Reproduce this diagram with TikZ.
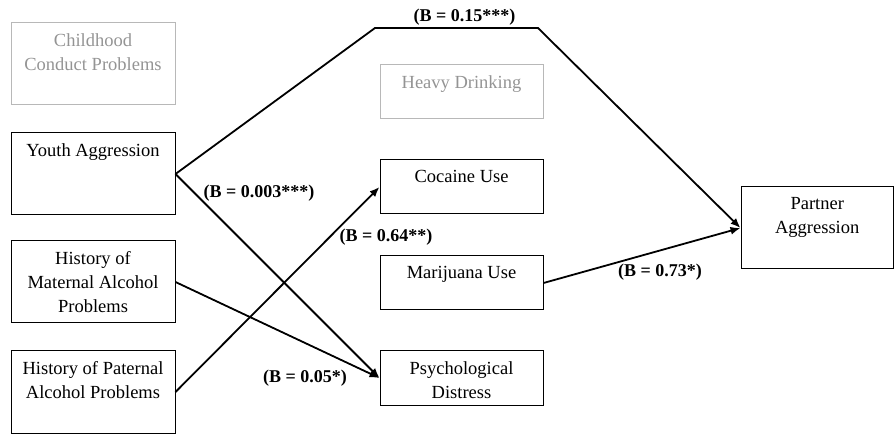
\documentclass[tikz,border=0pt]{standalone}
\usepackage{fontspec}
\setmainfont{Liberation Serif}
\usetikzlibrary{arrows.meta}
\begin{document}
\begin{tikzpicture}[x=1pt,y=-1pt,
  txt/.style={font=\fontsize{18.5}{24}\selectfont, align=center, inner sep=0pt, anchor=north},
  lbl/.style={font=\fontsize{18}{24}\selectfont\bfseries, inner sep=0pt},
  boxline/.style={draw=black, line width=1pt, minimum width=164pt, inner sep=0pt},
  greybox/.style={boxline, draw=black!28},
  greytxt/.style={txt, text=black!42},
  path/.style={line width=1.8pt, line join=miter},
  arr/.style={path, -{Latex[length=10pt,width=8pt]}}
]
\useasboundingbox (0,0) rectangle (894,435);

% predictor boxes
\node[greybox, minimum height=82pt] (ccp) at (93,64) {};
\node[boxline, minimum height=82pt] (ya)  at (93,174) {};
\node[boxline, minimum height=82pt] (mat) at (93,282) {};
\node[boxline, minimum height=82pt] (pat) at (93,392) {};

% mediator boxes
\node[greybox, minimum width=163pt, minimum height=54pt] (hd)  at (461.5,92) {};
\node[boxline, minimum width=163pt, minimum height=54pt] (coc) at (461.5,187) {};
\node[boxline, minimum width=163pt, minimum height=54pt] (mar) at (461.5,283) {};
\node[boxline, minimum width=163pt, minimum height=54pt] (psy) at (461.5,378) {};

% outcome box
\node[boxline, minimum width=152.5pt, minimum height=82pt] (pa) at (817.25,228) {};

% box texts
\node[greytxt] (ccp-t) at ([yshift=-11pt]ccp.north) {Childhood\\Conduct Problems};
\node[txt] (ya-t)  at ([yshift=-11pt]ya.north) {Youth Aggression};
\node[txt] (mat-t) at ([yshift=-11pt]mat.north) {History of\\Maternal Alcohol\\Problems};
\node[txt] (pat-t) at ([yshift=-11pt]pat.north) {History of Paternal\\Alcohol Problems};
\node[greytxt] (hd-t) at ([yshift=-11pt]hd.north) {Heavy Drinking};
\node[txt] (coc-t) at ([yshift=-11pt]coc.north) {Cocaine Use};
\node[txt] (mar-t) at ([yshift=-11pt]mar.north) {Marijuana Use};
\node[txt] (psy-t) at ([yshift=-11pt]psy.north) {Psychological\\Distress};
\node[txt] (pa-t)  at ([yshift=-11pt]pa.north) {Partner\\Aggression};

% bend points of the direct path
\coordinate (b1) at (375,28);
\coordinate (b2) at (538,28);

% paths
\draw[arr] (ya.east) -- (b1) -- (b2) -- (pa.west);
\draw[arr] (ya.east) -- (psy.west);
\draw[arr] (mat.east) -- (psy.west);
\draw[arr] (pat.east) -- (coc.west);
\draw[arr] (mar.east) -- (pa.west);

% coefficients
\node[lbl] (l1) at (464.5,17) {(B = 0.15***)};
\node[lbl] (l2) at (259,193) {(B = 0.003***)};
\node[lbl] (l3) at (386,237) {(B = 0.64**)};
\node[lbl] (l4) at (305,378) {(B = 0.05*)};
\node[lbl] (l5) at (660,272) {(B = 0.73*)};
\end{tikzpicture}
\end{document}
